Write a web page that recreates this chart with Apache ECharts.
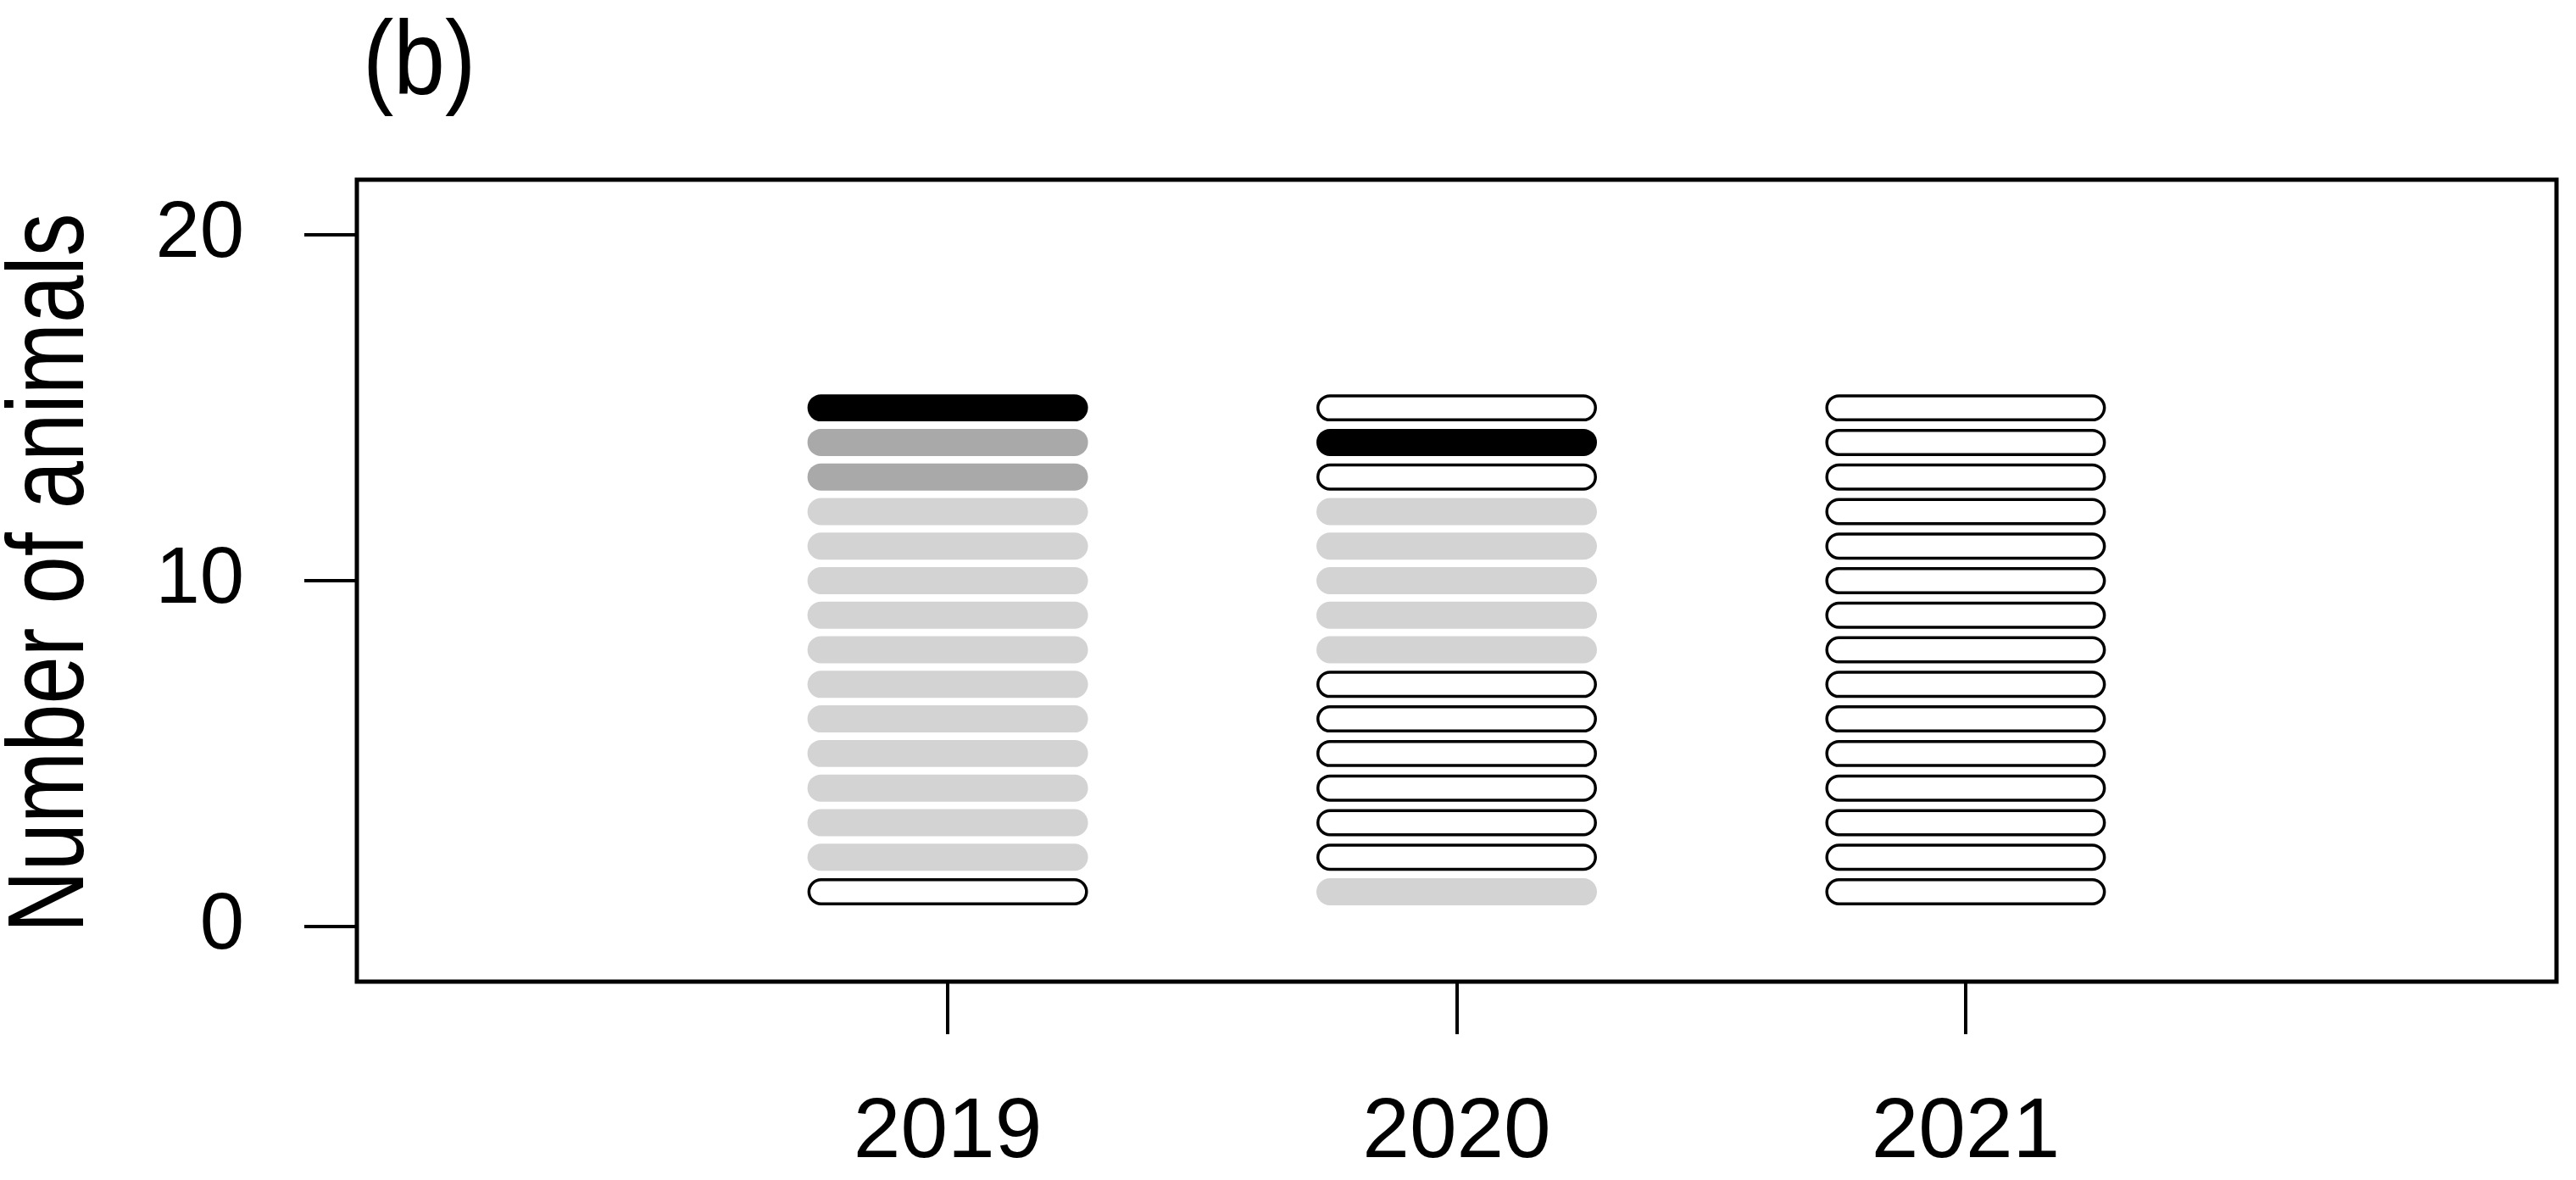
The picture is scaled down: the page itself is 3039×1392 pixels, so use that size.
<!DOCTYPE html>
<html>
<head>
<meta charset="utf-8">
<title>Number of animals</title>
<script src="https://cdn.jsdelivr.net/npm/echarts@6.0.0/dist/echarts.min.js"></script>
<style>
  html, body { margin: 0; padding: 0; background: #fff; }
  #chart { width: 3039px; height: 1392px; }
</style>
</head>
<body>
<div id="chart"></div>
<script>
// years on the x axis
const years = [2019, 2020, 2021];
// one entry per animal, from the bottom (1) to the top (15)
// 0 = open, 1 = light grey, 2 = dark grey, 3 = black
const animals2019 = [0, 1, 1, 1, 1, 1, 1, 1, 1, 1, 1, 1, 2, 2, 3];
const animals2020 = [1, 0, 0, 0, 0, 0, 0, 1, 1, 1, 1, 1, 0, 3, 0];
const animals2021 = [0, 0, 0, 0, 0, 0, 0, 0, 0, 0, 0, 0, 0, 0, 0];
const yTicks = [0, 10, 20];

const statusByYear = [animals2019, animals2020, animals2021];
const fills = ["#ffffff", "#d3d3d3", "#a9a9a9", "#000000"];
const font = "Liberation Sans, Arial, Helvetica, sans-serif";

// build [year, position, status]
const points = [];
years.forEach(function (year, i) {
  statusByYear[i].forEach(function (s, j) {
    points.push([year, j + 1, s]);
  });
});

const halfW = 0.2756; // half pill width in x units
const halfH = 0.392;  // half pill height in y units

function renderPill(params, api) {
  const x = api.value(0);
  const y = api.value(1);
  const s = api.value(2);
  const p0 = api.coord([x - halfW, y + halfH]);
  const p1 = api.coord([x + halfW, y - halfH]);
  const open = s === 0;
  const lw = open ? 3.5 : 0;
  const w = p1[0] - p0[0] - lw;
  const h = p1[1] - p0[1] - lw;
  return {
    type: "rect",
    shape: { x: p0[0] + lw / 2, y: p0[1] + lw / 2, width: w, height: h, r: h / 2 },
    style: {
      fill: fills[s],
      stroke: open ? "#000" : null,
      lineWidth: lw,
    },
  };
}

const chart = echarts.init(document.getElementById("chart"));
chart.setOption({
  animation: false,
  backgroundColor: "#fff",
  grid: {
    left: 421,
    right: 23,
    top: 212,
    bottom: 234,
    show: true,
    borderColor: "#000",
    borderWidth: 5,
    backgroundColor: "transparent",
    containLabel: false,
    outerBoundsMode: "none",
  },
  xAxis: {
    type: "value",
    min: 2017.839,
    max: 2022.161,
    splitLine: { show: false },
    axisLine: { show: false, onZero: false },
    axisTick: {
      show: true,
      customValues: years,
      length: 62,
      lineStyle: { color: "#000", width: 4 },
    },
    axisLabel: {
      customValues: years,
      formatter: function (v) { return String(v); },
      color: "#000",
      fontFamily: font,
      fontSize: 100,
      margin: 129,
    },
  },
  yAxis: {
    type: "value",
    min: -1.6,
    max: 21.6,
    splitLine: { show: false },
    axisLine: { show: false, onZero: false },
    axisTick: {
      show: true,
      customValues: yTicks,
      length: 62,
      lineStyle: { color: "#000", width: 4 },
    },
    axisLabel: {
      customValues: yTicks,
      color: "#000",
      fontFamily: font,
      fontSize: 94,
      margin: 133,
    },
  },
  graphic: [
    {
      type: "text",
      x: 63,
      y: 676,
      rotation: Math.PI / 2,
      scaleX: 0.79,
      style: {
        text: "Number of animals",
        font: "128px " + font,
        fill: "#000",
        textAlign: "center",
        textVerticalAlign: "middle",
      },
    },
    {
      type: "text",
      x: 428,
      y: 77,
      scaleX: 0.88,
      style: {
        text: "(b)",
        font: "124px " + font,
        fill: "#000",
        textAlign: "left",
        textVerticalAlign: "middle",
      },
    },
  ],
  series: [
    {
      type: "custom",
      renderItem: renderPill,
      data: points,
      encode: { x: 0, y: 1 },
      clip: false,
    },
  ],
});
</script>
</body>
</html>
